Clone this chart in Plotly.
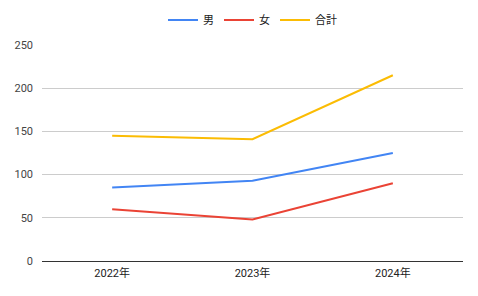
import plotly.graph_objects as go

years = ["2022年", "2023年", "2024年"]
male = [85, 93, 125]
female = [60, 48, 90]
total = [145, 141, 215]

names = ["男", "女", "合計"]
colors = ["#4285F4", "#EA4335", "#FBBC04"]

fig = go.Figure()
for name, vals, c in zip(names, [male, female, total], colors):
    fig.add_trace(go.Scatter(x=years, y=vals, name=name, mode="lines",
                             line=dict(color=c, width=2)))

fig.update_layout(
    width=478, height=296,
    margin=dict(l=42, r=15, t=45, b=35, autoexpand=False),
    paper_bgcolor="white", plot_bgcolor="white",
    font=dict(family="Roboto, Arial, 'Noto Sans CJK JP', sans-serif", size=12, color="#222"),
    legend=dict(orientation="h", x=0.5, xanchor="center", y=1.116, yanchor="middle",
                font=dict(size=11, color="#222"), itemwidth=30),
    showlegend=True,
)
fig.update_xaxes(type="category", range=[-0.5, 2.5], showgrid=False,
                 showline=False, ticks="", ticklabelstandoff=4,
                 tickfont=dict(size=11, color="#222"))
fig.update_yaxes(range=[0, 250], tickvals=[0, 50, 100, 150, 200, 250],
                 gridcolor="#cccccc", gridwidth=1, zeroline=True, zerolinecolor="#333333",
                 zerolinewidth=1, showline=False, ticks="", ticklabelstandoff=8,
                 tickfont=dict(size=11, color="#444"))

fig.write_html("out.html")
